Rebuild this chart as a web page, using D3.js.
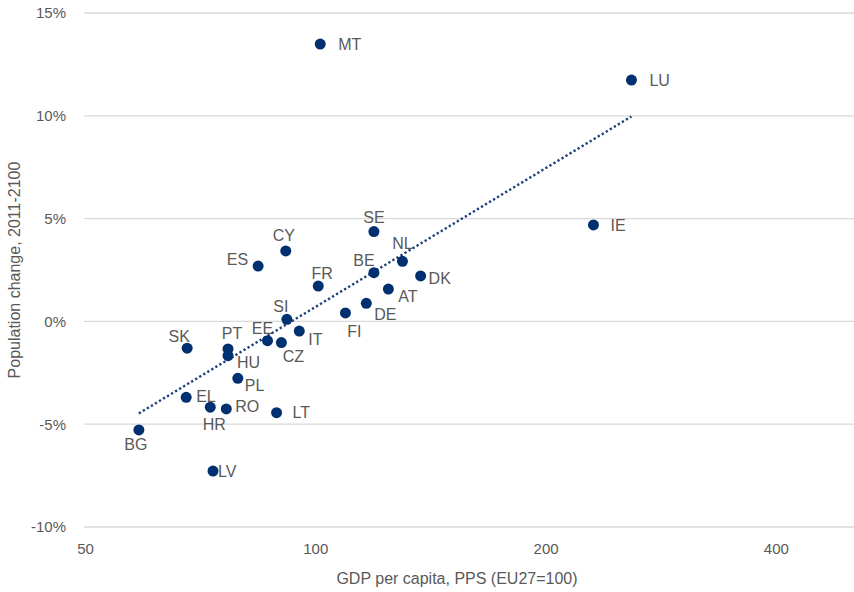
<!DOCTYPE html>
<html>
<head>
<meta charset="utf-8">
<script src="https://cdn.jsdelivr.net/npm/d3@7"></script>
<style>
  html, body { margin: 0; padding: 0; background: #ffffff; }
  svg { display: block; }
  text { font-family: "Liberation Sans", Arial, sans-serif; fill: #595959; }
</style>
</head>
<body>
<svg id="chart" width="854" height="592"></svg>
<script>
// ---- data ----
const countries = ["MT","LU","IE","SE","CY","ES","NL","BE","DK","FR","AT","DE","FI","SI","IT","EE","CZ","SK","PT","HU","PL","EL","HR","RO","LT","BG","LV"];
const gdpPerCapita = [101.5,259,231,119.3,91.5,84.2,130,119.3,137.3,100.9,124.6,116.6,109.5,91.8,95.3,86.6,90.3,68.0,76.9,76.9,79.2,67.8,72.9,76.5,89.0,58.8,73.5];
const populationChange = [13.49,11.74,4.69,4.37,3.43,2.69,2.92,2.37,2.21,1.72,1.57,0.88,0.41,0.10,-0.47,-0.94,-1.03,-1.30,-1.34,-1.67,-2.77,-3.69,-4.17,-4.26,-4.44,-5.28,-7.28];
const xTicks = [50, 100, 200, 400];
const yTicks = [15, 10, 5, 0, -5, -10];

// label placement: [anchor, dx, dy]
const labelPlacement = {
  MT:["start",18,0], LU:["start",18,0], IE:["start",17,1], SE:["middle",0,-14],
  CY:["middle",-2,-15], ES:["end",-10,-7], NL:["middle",0,-18], BE:["middle",-10,-12],
  DK:["start",8,3], FR:["middle",4,-13], AT:["start",10,7], DE:["start",8,11],
  FI:["middle",9,19], SI:["middle",-6,-13], IT:["start",9,8], EE:["middle",-5,-12],
  CZ:["middle",12,14], SK:["middle",-8,-12], PT:["middle",4,-15], HU:["start",9,7],
  PL:["start",7,7], EL:["start",10,-1], HR:["middle",4,17], RO:["start",9,-2],
  LT:["start",16,0], BG:["middle",-3,15], LV:["start",5,0]
};

const points = countries.map((c, i) => ({ c, x: gdpPerCapita[i], y: populationChange[i] }));

// ---- layout ----
const svg = d3.select("#chart");
const plotLeft = 84, plotRight = 852, plotTop = 13, plotBottom = 527;

const x = d3.scaleLog().base(2).domain([50, 500]).range([85, 850]);
const y = d3.scaleLinear().domain([-10, 15]).range([plotBottom, plotTop]);

// gridlines
svg.append("g").selectAll("line").data(yTicks).join("line")
  .attr("x1", plotLeft).attr("x2", 854)
  .attr("y1", d => y(d)).attr("y2", d => y(d))
  .attr("stroke", "#d9d9d9").attr("stroke-width", 1.3);

// y axis via d3 axis (no domain/tick lines)
const yAxis = svg.append("g").attr("transform", `translate(${plotLeft},0)`)
  .call(d3.axisLeft(y).tickValues(yTicks).tickFormat(d => d + "%").tickSize(0).tickPadding(18));
yAxis.select(".domain").remove();
yAxis.selectAll("text").attr("font-size", 15).attr("font-family", "Liberation Sans, Arial, sans-serif").attr("fill", "#595959");

// x axis
const xAxis = svg.append("g").attr("transform", `translate(0,${plotBottom})`)
  .call(d3.axisBottom(x).tickValues(xTicks).tickFormat(d3.format("d")).tickSize(0).tickPadding(16));
xAxis.select(".domain").remove();
xAxis.selectAll("text").attr("font-size", 15).attr("font-family", "Liberation Sans, Arial, sans-serif").attr("fill", "#595959");

// axis titles
svg.append("text").attr("x", 457).attr("y", 584).attr("text-anchor", "middle")
  .attr("font-size", 16).text("GDP per capita, PPS (EU27=100)");
svg.append("text").attr("transform", "translate(20,270) rotate(-90)").attr("text-anchor", "middle")
  .attr("font-size", 16).text("Population change, 2011-2100");

// logarithmic trendline (least squares on ln x)
const lx = points.map(p => Math.log(p.x));
const mx = d3.mean(lx), my = d3.mean(populationChange);
let sxy = 0, sxx = 0;
points.forEach((p, i) => { sxy += (lx[i] - mx) * (p.y - my); sxx += (lx[i] - mx) ** 2; });
const slope = sxy / sxx, intercept = my - slope * mx;
const [xmin, xmax] = d3.extent(gdpPerCapita);
svg.append("line")
  .attr("x1", x(xmin)).attr("y1", y(slope * Math.log(xmin) + intercept))
  .attr("x2", x(xmax)).attr("y2", y(slope * Math.log(xmax) + intercept))
  .attr("stroke", "#1f3f7a").attr("stroke-width", 2.4)
  .attr("stroke-dasharray", "2.3 2.4");

// points
svg.append("g").selectAll("circle").data(points).join("circle")
  .attr("cx", d => x(d.x)).attr("cy", d => y(d.y)).attr("r", 5.5)
  .attr("fill", "#003070");

// labels
svg.append("g").selectAll("text").data(points).join("text")
  .attr("x", d => x(d.x) + labelPlacement[d.c][1])
  .attr("y", d => y(d.y) + labelPlacement[d.c][2])
  .attr("text-anchor", d => labelPlacement[d.c][0])
  .attr("dominant-baseline", "central")
  .attr("font-size", 16)
  .text(d => d.c);
</script>
</body>
</html>
